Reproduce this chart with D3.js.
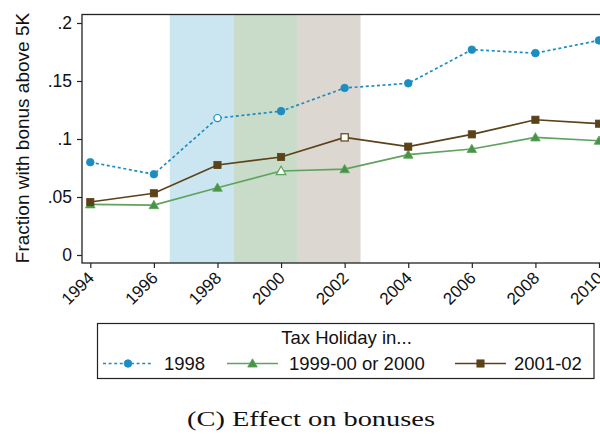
<!DOCTYPE html>
<html><head><meta charset="utf-8">
<script src="https://cdn.jsdelivr.net/npm/d3@7"></script>
<style>body{margin:0;background:#fff}svg{display:block}</style>
</head><body>
<svg id="c" width="600" height="437"></svg>
<script>
const years = [1994,1996,1998,2000,2002,2004,2006,2008,2010];
const s1998 = [0.080,0.0696,0.118,0.124,0.144,0.148,0.177,0.174,0.185];
const s1999 = [0.0437,0.043,0.058,0.0724,0.074,0.0865,0.0914,0.1014,0.0985];
const s2001 = [0.0457,0.0532,0.0776,0.0845,0.1014,0.0934,0.104,0.1166,0.1132];
const seriesNames = ["1998","1999-00 or 2000","2001-02"];
const hollowYear = [1998,2000,2002];
const yTicks = [0,0.05,0.1,0.15,0.2];
const yTickLabels = ["0",".05",".1",".15",".2"];
const bands = [[1996.5,1998.5],[1998.5,2000.5],[2000.5,2002.5]];
const bandColors = ["#cbe5f1","#c9dcc9","#dcd8d1"];

const svg = d3.select("#c");
const font = "'Liberation Sans', Arial, Helvetica, sans-serif";
const L=82, T=14.5, R=608, B=263;
const x = d3.scaleLinear().domain([1994,2010]).range([90.3,599]);
const y = d3.scaleLinear().domain([0,0.2]).range([255,23]);

// bands
svg.selectAll("rect.band").data(bands).enter().append("rect")
  .attr("x",d=>x(d[0])).attr("width",d=>x(d[1])-x(d[0]))
  .attr("y",T).attr("height",B-T).attr("fill",(d,i)=>bandColors[i]);

// frame
svg.append("rect").attr("x",L).attr("y",T).attr("width",R-L).attr("height",B-T)
  .attr("fill","none").attr("stroke","#222").attr("stroke-width",1.3);

// axes
const ya = d3.axisLeft(y).tickValues(yTicks).tickFormat((d,i)=>yTickLabels[i]).tickSize(5).tickPadding(5);
const gy = svg.append("g").attr("transform",`translate(${L},0)`).call(ya);
gy.select(".domain").remove();
gy.selectAll("text").attr("font-family",font).attr("font-size",17.5).attr("fill","#111");
gy.selectAll("line").attr("stroke","#222").attr("stroke-width",1.2);

const xa = d3.axisBottom(x).tickValues(years).tickFormat(d3.format("d")).tickSize(5).tickPadding(3);
const gx = svg.append("g").attr("transform",`translate(0,${B})`).call(xa);
gx.select(".domain").remove();
gx.selectAll("line").attr("stroke","#222").attr("stroke-width",1.2);
gx.selectAll("text").attr("font-family",font).attr("font-size",17).attr("fill","#111")
  .attr("text-anchor","end").attr("x",0).attr("y",0).attr("dy",0)
  .attr("transform","translate(4.5,16) rotate(-45)");

// y label
svg.append("text").attr("transform","translate(28.5,138) rotate(-90)")
  .attr("text-anchor","middle").attr("font-family",font).attr("font-size",19).attr("fill","#111")
  .text("Fraction with bonus above 5K");

const series = [
  {vals:s1998,color:"#1a8dc1",dash:"3,2.6",shape:"circle",edge:"#1a8dc1"},
  {vals:s1999,color:"#5fa35f",dash:null,shape:"triangle",edge:"#5fa35f",fill:"#469546"},
  {vals:s2001,color:"#5b4219",dash:null,shape:"square",edge:"#5b4219"}
];
const line = d3.line().x(d=>x(d[0])).y(d=>y(d[1]));
function marker(g, shape, cx, cy, fill, edge, hollow){
  let m;
  if(shape==="circle") m = g.append("circle").attr("cx",cx).attr("cy",cy).attr("r",hollow?3.6:3.8);
  else if(shape==="square") m = g.append("rect").attr("x",cx-3.6).attr("y",cy-3.6).attr("width",7.2).attr("height",7.2);
  else m = g.append("path").attr("d",d3.symbol(d3.symbolTriangle,40)()).attr("transform",`translate(${cx},${cy+0.8})`);
  m.attr("fill",hollow?"#fff":fill).attr("stroke",edge).attr("stroke-width",hollow?1.2:0.8);
}
series.forEach((s,si)=>{
  const pts = years.map((yr,i)=>[yr,s.vals[i]]);
  svg.append("path").attr("d",line(pts)).attr("fill","none").attr("stroke",s.color)
    .attr("stroke-width",1.7).attr("stroke-dasharray",s.dash);
  const g = svg.append("g");
  pts.forEach(p=>marker(g,s.shape,x(p[0]),y(p[1]),s.fill||s.color,s.edge,p[0]===hollowYear[si]));
});

// legend
svg.append("rect").attr("x",97.5).attr("y",323.5).attr("width",496.5).attr("height",55)
  .attr("fill","#fff").attr("stroke","#222").attr("stroke-width",1.2);
svg.append("text").attr("x",346.5).attr("y",344).attr("text-anchor","middle")
  .attr("font-family",font).attr("font-size",18.5).attr("fill","#111").text("Tax Holiday in...");
const legItems = [[103,153,164],[227,278,289],[455,506,514]];
series.forEach((s,i)=>{
  const [x0,x1,tx]=legItems[i];
  const ly=363.5;
  svg.append("line").attr("x1",x0).attr("x2",x1).attr("y1",ly).attr("y2",ly)
    .attr("stroke",s.color).attr("stroke-width",1.7).attr("stroke-dasharray",s.dash);
  const g=svg.append("g");
  marker(g,s.shape,(x0+x1)/2,ly,s.fill||s.color,s.edge,false);
  svg.append("text").attr("x",tx).attr("y",369.5).attr("font-family",font).attr("font-size",18.5)
    .attr("fill","#111").text(seriesNames[i]);
});

// caption
svg.append("text").attr("x",187).attr("y",426)
  .attr("font-family","'Liberation Serif','Times New Roman',serif")
  .attr("font-size",21.5).attr("fill","#111")
  .attr("textLength",248).attr("lengthAdjust","spacingAndGlyphs")
  .text("(C) Effect on bonuses");
</script>
</body></html>
